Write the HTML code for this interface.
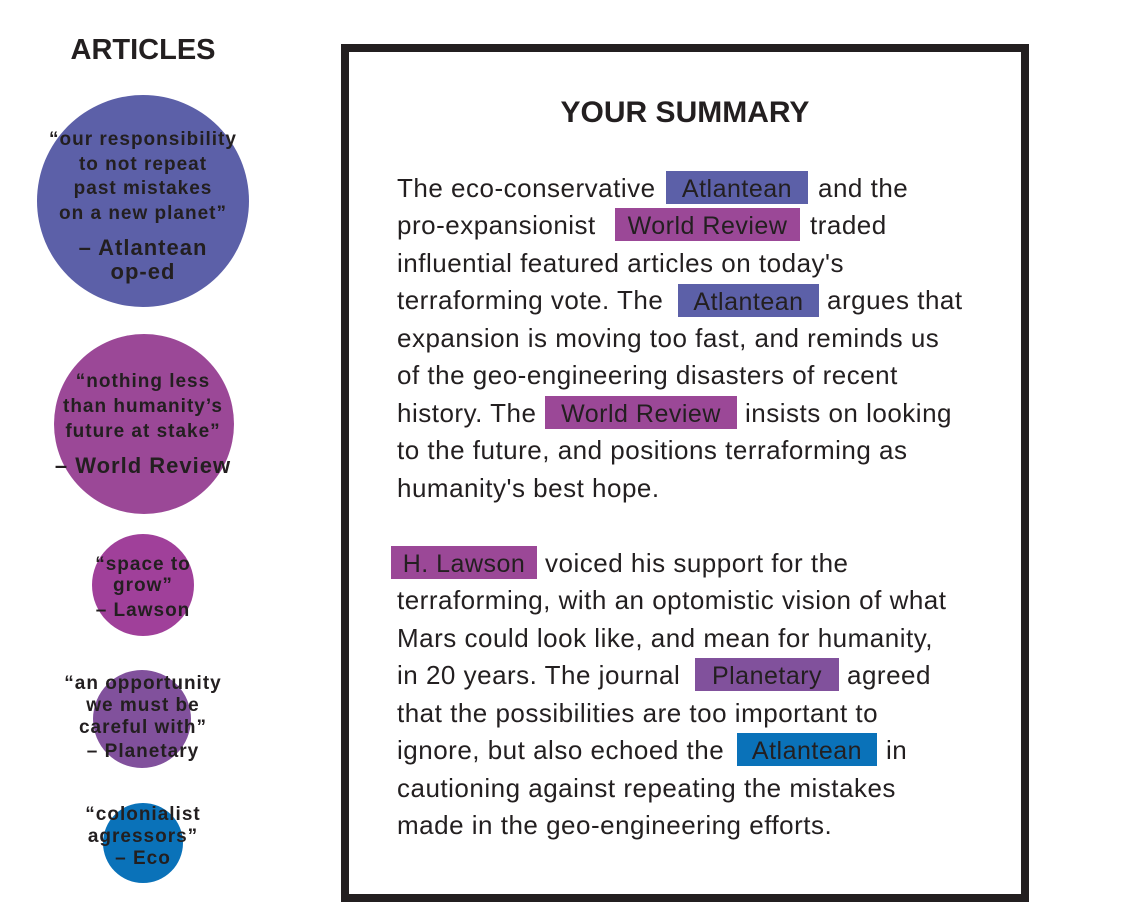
<!DOCTYPE html>
<html><head><meta charset="utf-8"><style>
body{margin:0;width:1125px;height:923px;background:#fff;position:relative;overflow:hidden;font-family:"Liberation Sans",sans-serif;color:#231f20}
.c{position:absolute;border-radius:50%}
.q{position:absolute;left:0;width:286px;text-align:center;font-weight:bold;font-size:19px;letter-spacing:1px;line-height:20px;white-space:nowrap}
.t{position:absolute;font-size:26px;letter-spacing:0.5px;line-height:30px;white-space:nowrap}
.h{position:absolute;font-size:25px;letter-spacing:0.5px;height:33px;line-height:37px;text-align:center;white-space:nowrap;overflow:visible}
</style></head><body>
<div style="position:absolute;left:0;width:286px;top:34px;text-align:center;font-size:29px;font-weight:bold">ARTICLES</div>

<div class="c" style="left:37px;top:95px;width:212px;height:212px;background:#5c60a8"></div>
<div class="c" style="left:54px;top:334px;width:180px;height:180px;background:#9b4897"></div>
<div class="c" style="left:92px;top:534px;width:102px;height:102px;background:#a0409a"></div>
<div class="c" style="left:93px;top:670px;width:98px;height:98px;background:#81519c"></div>
<div class="c" style="left:103px;top:803px;width:80px;height:80px;background:#0a72b9"></div>

<div class="q" style="top:130px">“our responsibility</div>
<div class="q" style="top:155px">to not repeat</div>
<div class="q" style="top:179px">past mistakes</div>
<div class="q" style="top:204px">on a new planet”</div>
<div class="q" style="top:236px;font-size:22px;line-height:24px">– Atlantean<br>op-ed</div>

<div class="q" style="top:372px">“nothing less</div>
<div class="q" style="top:397px">than humanity’s</div>
<div class="q" style="top:422px">future at stake”</div>
<div class="q" style="top:454px;font-size:22px;line-height:24px">– World Review</div>

<div class="q" style="top:555px">“space to</div>
<div class="q" style="top:576px">grow”</div>
<div class="q" style="top:601px">– Lawson</div>

<div class="q" style="top:674px">“an opportunity</div>
<div class="q" style="top:696px">we must be</div>
<div class="q" style="top:718px">careful with”</div>
<div class="q" style="top:742px">– Planetary</div>

<div class="q" style="top:805px">“colonialist</div>
<div class="q" style="top:827px">agressors”</div>
<div class="q" style="top:849px">– Eco</div>

<div style="position:absolute;left:341px;top:44px;width:672px;height:842px;border:8px solid #231f20"></div>
<div style="position:absolute;left:341px;width:688px;top:96px;text-align:center;font-size:30px;font-weight:bold">YOUR SUMMARY</div>

<div class="h" style="left:666px;top:171px;width:142px;background:#5c60a8">Atlantean</div>
<div class="h" style="left:615px;top:208px;width:185px;background:#9b4897">World Review</div>
<div class="h" style="left:678px;top:284px;width:141px;background:#5c60a8">Atlantean</div>
<div class="h" style="left:545px;top:396px;width:192px;background:#9b4897">World Review</div>
<div class="h" style="left:391px;top:546px;width:146px;background:#9b4897">H. Lawson</div>
<div class="h" style="left:695px;top:658px;width:144px;background:#81519c">Planetary</div>
<div class="h" style="left:737px;top:733px;width:140px;background:#0a72b9">Atlantean</div>

<div class="t" style="left:397px;top:173px">The eco-conservative</div>
<div class="t" style="left:818px;top:173px">and the</div>
<div class="t" style="left:397px;top:210px">pro-expansionist</div>
<div class="t" style="left:810px;top:210px">traded</div>
<div class="t" style="left:397px;top:248px">influential featured articles on today's</div>
<div class="t" style="left:397px;top:285px">terraforming vote. The</div>
<div class="t" style="left:827px;top:285px">argues that</div>
<div class="t" style="left:397px;top:323px">expansion is moving too fast, and reminds us</div>
<div class="t" style="left:397px;top:360px">of the geo-engineering disasters of recent</div>
<div class="t" style="left:397px;top:398px">history. The</div>
<div class="t" style="left:745px;top:398px">insists on looking</div>
<div class="t" style="left:397px;top:435px">to the future, and positions terraforming as</div>
<div class="t" style="left:397px;top:473px">humanity's best hope.</div>

<div class="t" style="left:545px;top:548px">voiced his support for the</div>
<div class="t" style="left:397px;top:585px">terraforming, with an optomistic vision of what</div>
<div class="t" style="left:397px;top:623px">Mars could look like, and mean for humanity,</div>
<div class="t" style="left:397px;top:660px">in 20 years. The journal</div>
<div class="t" style="left:847px;top:660px">agreed</div>
<div class="t" style="left:397px;top:698px">that the possibilities are too important to</div>
<div class="t" style="left:397px;top:735px">ignore, but also echoed the</div>
<div class="t" style="left:886px;top:735px">in</div>
<div class="t" style="left:397px;top:773px">cautioning against repeating the mistakes</div>
<div class="t" style="left:397px;top:810px">made in the geo-engineering efforts.</div>
</body></html>
